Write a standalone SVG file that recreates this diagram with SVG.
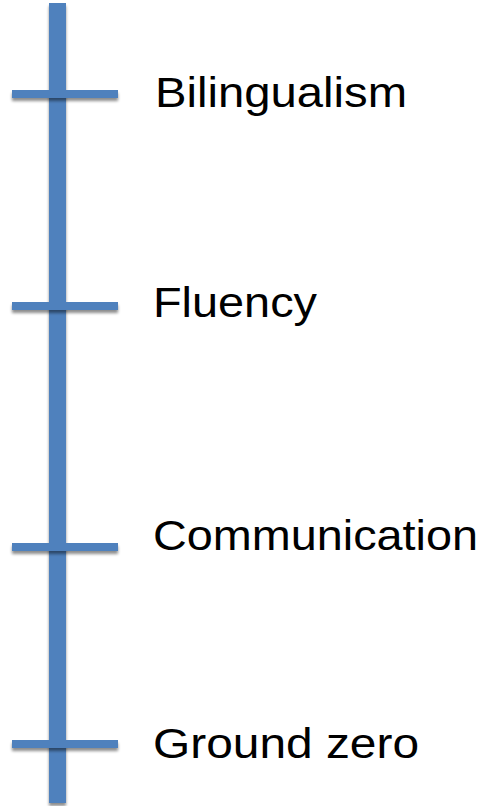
<svg xmlns="http://www.w3.org/2000/svg" width="489" height="806" viewBox="0 0 489 806">
  <defs>
    <filter id="shadow" x="-20%" y="-50%" width="140%" height="250%">
      <feGaussianBlur in="SourceAlpha" stdDeviation="1.8"/>
      <feOffset dx="0" dy="3" result="b"/>
      <feComponentTransfer><feFuncA type="linear" slope="0.45"/></feComponentTransfer>
      <feMerge><feMergeNode/><feMergeNode in="SourceGraphic"/></feMerge>
    </filter>
  </defs>
  <style>
    .bar { fill: #4F81BD; filter: url(#shadow); }
    .label { font-family: "Liberation Sans", Arial, sans-serif; font-size: 42px; fill: #000000; }
  </style>
  <g id="connectors">
    <rect class="bar" x="49" y="3" width="17" height="800"/>
  </g>
  <g id="bilingualism">
    <rect class="bar" x="12" y="90" width="106" height="8"/>
    <text class="label" x="155" y="107" textLength="252" lengthAdjust="spacingAndGlyphs">Bilingualism</text>
  </g>
  <g id="fluency">
    <rect class="bar" x="12" y="302" width="106" height="8"/>
    <text class="label" x="153" y="317" textLength="164" lengthAdjust="spacingAndGlyphs">Fluency</text>
  </g>
  <g id="communication">
    <rect class="bar" x="12" y="543" width="106" height="8"/>
    <text class="label" x="153" y="550" textLength="325" lengthAdjust="spacingAndGlyphs">Communication</text>
  </g>
  <g id="ground-zero">
    <rect class="bar" x="12" y="740" width="106" height="8"/>
    <text class="label" x="153" y="758" textLength="266" lengthAdjust="spacingAndGlyphs">Ground zero</text>
  </g>
</svg>
